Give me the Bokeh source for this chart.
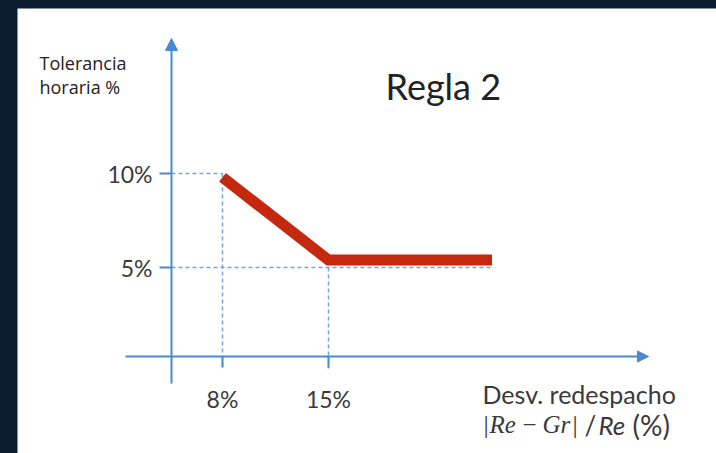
from bokeh.plotting import figure
from bokeh.models import Range1d, Arrow, NormalHead, Label, ColumnDataSource, GlobalInlineStyleSheet
from bokeh.core.properties import value
from bokeh.embed import file_html
from bokeh.resources import INLINE

# ---------------- data ----------------
dev_pct = [8, 15, 25.8]          # Desv. redespacho (%)
tol_pct = [9.8, 5.4, 5.4]        # Tolerancia horaria (%)
x_ticks = [8, 15]
x_tick_labels = ["8%", "15%"]
y_ticks = [10, 5]
y_tick_labels = ["10%", "5%"]
title_text = "Regla 2"
y_title_lines = ["Tolerancia", "horaria %"]
x_title_line1 = "Desv. redespacho"

# ---------------- layout helpers (page pixel -> data) ----------------
FRAME_LEFT, FRAME_TOP, W, H = 17, 8, 716, 453
def X(px):
    return 8 + (px - 222) * 7 / 106
def Y(py):
    return 5 - (py - 267) * 5 / 94

DARK = "#0c1c30"
AXIS = "#4a8ad0"
GUIDE = "#6ea6dc"
RED = "#c4280f"
TXT = "#3a3a3a"

p = figure(width=W, height=H, output_backend="svg", toolbar_location=None,
           x_range=Range1d(X(FRAME_LEFT), X(W)), y_range=Range1d(Y(H), Y(FRAME_TOP)),
           x_axis_location=None, y_axis_location=None,
           min_border_left=FRAME_LEFT, min_border_right=0, min_border_top=FRAME_TOP, min_border_bottom=0,
           border_fill_color=DARK, background_fill_color="white", outline_line_color=None)
p.grid.visible = False
p.stylesheets = [GlobalInlineStyleSheet(css="body{background-color:%s;}" % DARK)]

ax_x = X(171)     # y axis position
ax_y = Y(356)     # x axis position

# guides
p.segment(x0=[ax_x, ax_x], y0=y_ticks, x1=[dev_pct[0], dev_pct[-1]], y1=y_ticks,
          line_color=GUIDE, line_width=1.5, line_dash="4 3")
p.segment(x0=x_ticks, y0=[y_ticks[0], y_ticks[1]], x1=x_ticks, y1=[Y(368), Y(368)],
          line_color=GUIDE, line_width=1.5, line_dash="4 3")

# axes with arrows
p.add_layout(Arrow(x_start=ax_x, y_start=Y(383), x_end=ax_x, y_end=Y(38),
                   line_color=AXIS, line_width=2,
                   end=NormalHead(size=12, fill_color=AXIS, line_color=AXIS)))
p.add_layout(Arrow(x_start=X(125), y_start=ax_y, x_end=X(648), y_end=ax_y,
                   line_color=AXIS, line_width=2,
                   end=NormalHead(size=11, fill_color=AXIS, line_color=AXIS)))

# tick marks
p.segment(x0=[X(159)] * 2, y0=y_ticks, x1=[ax_x] * 2, y1=y_ticks, line_color=AXIS, line_width=2)
p.segment(x0=x_ticks, y0=[ax_y] * 2, x1=x_ticks, y1=[Y(367)] * 2, line_color=AXIS, line_width=2)

# red rule line
p.line(dev_pct, tol_pct, line_color=RED, line_width=11, line_join="miter", line_cap="butt")

# tick labels
ysrc = ColumnDataSource(dict(x=[ax_x] * len(y_ticks), y=y_ticks, t=y_tick_labels))
p.text(x="x", y="y", text="t", source=ysrc, x_offset=-19, text_align="right", text_baseline="middle",
       text_font=value("Lato"), text_font_size="23px", text_color=TXT)
xsrc = ColumnDataSource(dict(x=x_ticks, y=[ax_y] * len(x_ticks), t=x_tick_labels))
p.text(x="x", y="y", text="t", source=xsrc, y_offset=42, text_align="center", text_baseline="alphabetic",
       text_font=value("Lato"), text_font_size="23px", text_color=TXT)

def lab(txt, px, py, size, font="Lato", style="normal", align="left", color=TXT):
    p.add_layout(Label(x=X(px), y=Y(py), text=txt, text_font=font, text_font_size=size,
                       text_font_style=style, text_align=align, text_baseline="alphabetic",
                       text_color=color))

lab(title_text, 385, 85, "36px", color="#222222")
lab(y_title_lines[0], 39, 62, "18px", font="Open Sans", color="#222222")
lab(y_title_lines[1], 39, 86, "18px", font="Open Sans", color="#222222")
lab(x_title_line1, 482, 393, "25px")
# |Re − Gr| / Re (%)
lab("|", 483, 424, "26px", font="Liberation Serif")
lab("Re", 489, 424, "25px", font="Liberation Serif", style="italic")
lab("\u2212", 522, 424, "25px", font="Liberation Serif")
lab("Gr", 542, 424, "25px", font="Liberation Serif", style="italic")
lab("|", 572, 424, "26px", font="Liberation Serif")
lab("/", 584, 424, "26px", font="Lato")
lab("Re", 598, 424, "26px", font="Lato", style="italic")
lab("(%)", 632, 424, "28px", font="Lato")

open("out.html", "w").write(file_html(p, INLINE))
